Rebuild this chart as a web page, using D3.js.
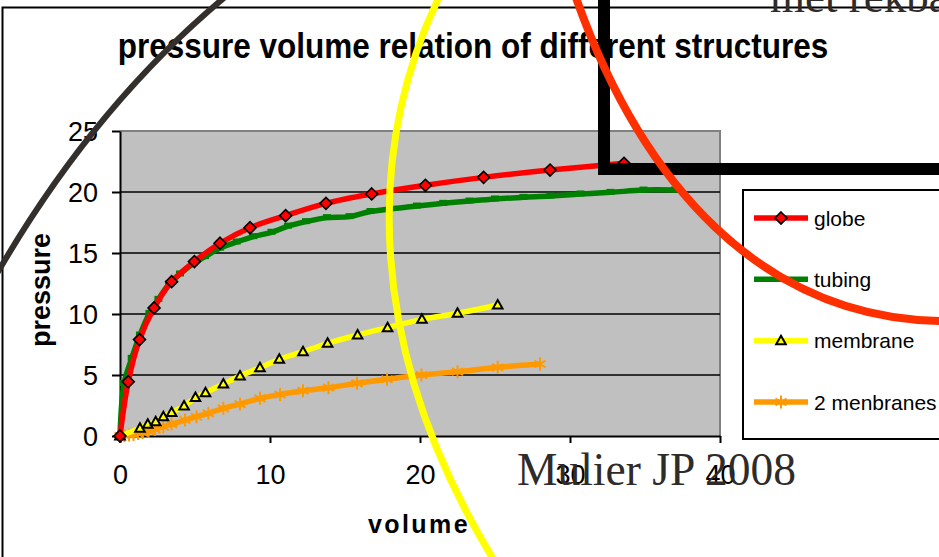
<!DOCTYPE html>
<html><head><meta charset="utf-8">
<script src="https://cdn.jsdelivr.net/npm/d3@7"></script>
<style>html,body{margin:0;padding:0;background:#fff;overflow:hidden}</style>
</head><body><svg id="c" width="939" height="557"></svg>
<script>
// ---- data ----
const titleText = "pressure volume relation of different structures";
const xLabel = "volume";
const yLabel = "pressure";
const xTicks = [0, 10, 20, 30, 40];
const yTicks = [0, 5, 10, 15, 20, 25];
const seriesNames = ["globe", "tubing", "membrane", "2 menbranes"];

const globeX = [0, 0.55, 1.3, 2.27, 3.44, 4.96, 6.67, 8.67, 11.04, 13.73, 16.78, 20.36, 24.24, 28.67, 33.6];
const globeY = [0, 4.45, 7.9, 10.5, 12.65, 14.3, 15.8, 17.07, 18.06, 19.07, 19.84, 20.55, 21.2, 21.8, 22.35];

const tubingX = [0, 0.27, 0.78, 1.33, 1.96, 2.56, 3.27, 4.0, 4.89, 5.67, 6.67, 7.78, 8.89, 10.1, 11.2, 12.4, 13.8, 15.3, 16.7, 19.8, 21.55, 23.3, 25.0, 26.9, 28.7, 30.7, 32.7, 34.9, 37.0];
const tubingY = [0, 4.3, 6.37, 8.28, 10.05, 11.2, 12.46, 13.28, 14.15, 14.7, 15.4, 15.9, 16.34, 16.7, 17.2, 17.57, 17.9, 17.98, 18.4, 18.85, 19.07, 19.26, 19.43, 19.56, 19.67, 19.84, 19.97, 20.16, 20.16];

const membraneX = [0, 1.33, 1.85, 2.38, 2.89, 3.44, 4.27, 5.03, 5.7, 6.89, 8.0, 9.33, 10.62, 12.2, 13.84, 15.84, 17.84, 20.13, 22.5, 25.18];
const membraneY = [0, 0.63, 0.96, 1.17, 1.58, 1.93, 2.46, 3.15, 3.55, 4.26, 4.92, 5.6, 6.29, 6.91, 7.6, 8.28, 8.88, 9.56, 10.06, 10.74];

const twoX = [0, 0.3, 0.6, 0.9, 1.2, 1.5, 1.9, 2.33, 2.89, 3.44, 4.33, 5.1, 5.89, 6.89, 8.0, 9.33, 10.67, 12.2, 13.9, 15.8, 17.8, 20.1, 22.5, 25.18, 28.0];
const twoY = [0, 0.03, 0.08, 0.13, 0.2, 0.28, 0.4, 0.55, 0.76, 0.98, 1.31, 1.58, 1.86, 2.27, 2.62, 3.09, 3.4, 3.71, 3.96, 4.32, 4.65, 5.0, 5.27, 5.63, 5.9];

// ---- drawing ----
const svg = d3.select("#c");
const FONT = "'Liberation Sans', Arial, sans-serif";
const SERIF = "'Liberation Serif', 'Times New Roman', serif";
svg.append("rect").attr("width", 939).attr("height", 557).attr("fill", "#fff");

// chart border
svg.append("path").attr("d", "M2.5,560 V7.5 H945").attr("fill", "none").attr("stroke", "#000").attr("stroke-width", 2);

const x = d3.scaleLinear().domain([0, 40]).range([120, 720]);
const y = d3.scaleLinear().domain([0, 25]).range([436, 131]);

// title
svg.append("text").attr("transform", "translate(473,58) scale(1,1.13)")
  .attr("text-anchor", "middle").attr("font-family", FONT).attr("font-weight", "bold")
  .attr("font-size", 31.5).attr("fill", "#000").text(titleText);

// plot area
svg.append("rect").attr("x", x(0)).attr("y", y(25)).attr("width", x(40) - x(0)).attr("height", y(0) - y(25))
  .attr("fill", "#c0c0c0");
svg.append("path").attr("d", `M${x(0)},${y(25)} H${x(40)} V${y(0)}`).attr("fill", "none").attr("stroke", "#808080").attr("stroke-width", 2);

// gridlines
svg.append("g").selectAll("line").data(yTicks.filter(v => v > 0 && v < 25)).join("line")
  .attr("x1", x(0)).attr("x2", x(40)).attr("y1", d => y(d)).attr("y2", d => y(d))
  .attr("stroke", "#000").attr("stroke-width", 1.6);

// axes
const yAxis = svg.append("g").attr("transform", `translate(${x(0)},0)`)
  .call(d3.axisLeft(y).tickValues(yTicks).tickSize(8).tickSizeOuter(0).tickPadding(14).tickFormat(d3.format("d")));
const xAxis = svg.append("g").attr("transform", `translate(0,${y(0)})`)
  .call(d3.axisBottom(x).tickValues(xTicks).tickSize(7).tickSizeOuter(0).tickPadding(23).tickFormat(d3.format("d")));
[yAxis, xAxis].forEach(a => {
  a.select(".domain").attr("stroke", "#000").attr("stroke-width", 2);
  a.selectAll(".tick line").attr("stroke", "#000").attr("stroke-width", 2);
  a.selectAll(".tick text").attr("font-family", FONT).attr("font-size", 27).attr("fill", "#000");
});
yAxis.selectAll(".tick text").attr("dy", "0.36em");
xAxis.selectAll(".tick text").attr("dy", "0.68em");

// axis labels
svg.append("text").attr("transform", "translate(50,290) rotate(-90)").attr("text-anchor", "middle")
  .attr("font-family", FONT).attr("font-weight", "bold").attr("font-size", 27).text(yLabel);
svg.append("text").attr("x", 419).attr("y", 533).attr("text-anchor", "middle")
  .attr("font-family", FONT).attr("font-weight", "bold").attr("font-size", 25).attr("letter-spacing", 2.4).text(xLabel);

// series
const series = [
  {name: seriesNames[0], xs: globeX, ys: globeY, color: "#ff0000", marker: "diamond"},
  {name: seriesNames[1], xs: tubingX, ys: tubingY, color: "#008000", marker: "dash"},
  {name: seriesNames[2], xs: membraneX, ys: membraneY, color: "#ffff00", marker: "triangle"},
  {name: seriesNames[3], xs: twoX, ys: twoY, color: "#ff9900", marker: "star"}
];
const line = d3.line().x(d => x(d[0])).y(d => y(d[1])).curve(d3.curveCatmullRom.alpha(0.5));

function marker(g, type, color) {
  if (type === "diamond") {
    g.append("path").attr("d", "M0,-6L6,0L0,6L-6,0Z").attr("fill", color).attr("stroke", "#000").attr("stroke-width", 1.6);
  } else if (type === "dash") {
    g.append("rect").attr("x", -4).attr("y", -3.5).attr("width", 8).attr("height", 6).attr("fill", color);
  } else if (type === "triangle") {
    g.append("path").attr("d", "M0,-5L4.8,3.5L-4.8,3.5Z").attr("fill", color).attr("stroke", "#000").attr("stroke-width", 2);
  } else if (type === "star") {
    g.append("path").attr("d", "M0,-6.5V6.5M-5.5,-3.5L5.5,3.5M-5.5,3.5L5.5,-3.5").attr("fill", "none").attr("stroke", color).attr("stroke-width", 2);
  }
}

// draw in reverse so globe is on top
series.slice().reverse().forEach(s => {
  const pts = s.xs.map((v, i) => [v, s.ys[i]]);
  const g = svg.append("g");
  g.append("path").attr("d", line(pts)).attr("fill", "none").attr("stroke", s.color).attr("stroke-width", 5.5);
  pts.forEach(p => {
    marker(g.append("g").attr("transform", `translate(${x(p[0])},${y(p[1])})`), s.marker, s.color);
  });
});

// legend
const lg = svg.append("g");
lg.append("rect").attr("x", 743).attr("y", 190).attr("width", 230).attr("height", 249)
  .attr("fill", "#fff").attr("stroke", "#000").attr("stroke-width", 2);
const legY = d3.scalePoint().domain(seriesNames).range([218, 402]);
series.forEach(s => {
  const cy = legY(s.name);
  lg.append("line").attr("x1", 754).attr("x2", 808).attr("y1", cy).attr("y2", cy).attr("stroke", s.color).attr("stroke-width", 5.5);
  marker(lg.append("g").attr("transform", `translate(781,${cy})`), s.marker, s.color);
  lg.append("text").attr("x", 814).attr("y", cy + 7.5).attr("font-family", FONT).attr("font-size", 21).attr("fill", "#000").text(s.name);
});

// ---- overlays (annotations drawn on top of the slide) ----
svg.append("text").attr("x", 770).attr("y", 12).attr("font-family", SERIF).attr("font-size", 45).attr("fill", "#2f2b29").text("met rekbaarheid");
svg.append("text").attr("x", 517).attr("y", 485).attr("font-family", SERIF).attr("font-size", 45.5).attr("fill", "#2f2b29").text("Mulier JP 2008");
svg.append("path").attr("d", "M-5,277 Q92,108 225,-3").attr("fill", "none").attr("stroke", "#332f2c").attr("stroke-width", 6);
svg.append("path").attr("d", "M440,-5 C365,150 365,350 495,562").attr("fill", "none").attr("stroke", "#ffff00").attr("stroke-width", 7);
svg.append("path").attr("d", "M604,-10 V169 H950").attr("fill", "none").attr("stroke", "#000").attr("stroke-width", 12);
svg.append("path").attr("d", "M575,-5 C640,180 760,320 945,321").attr("fill", "none").attr("stroke", "#ff3000").attr("stroke-width", 8);
</script>
</body></html>
